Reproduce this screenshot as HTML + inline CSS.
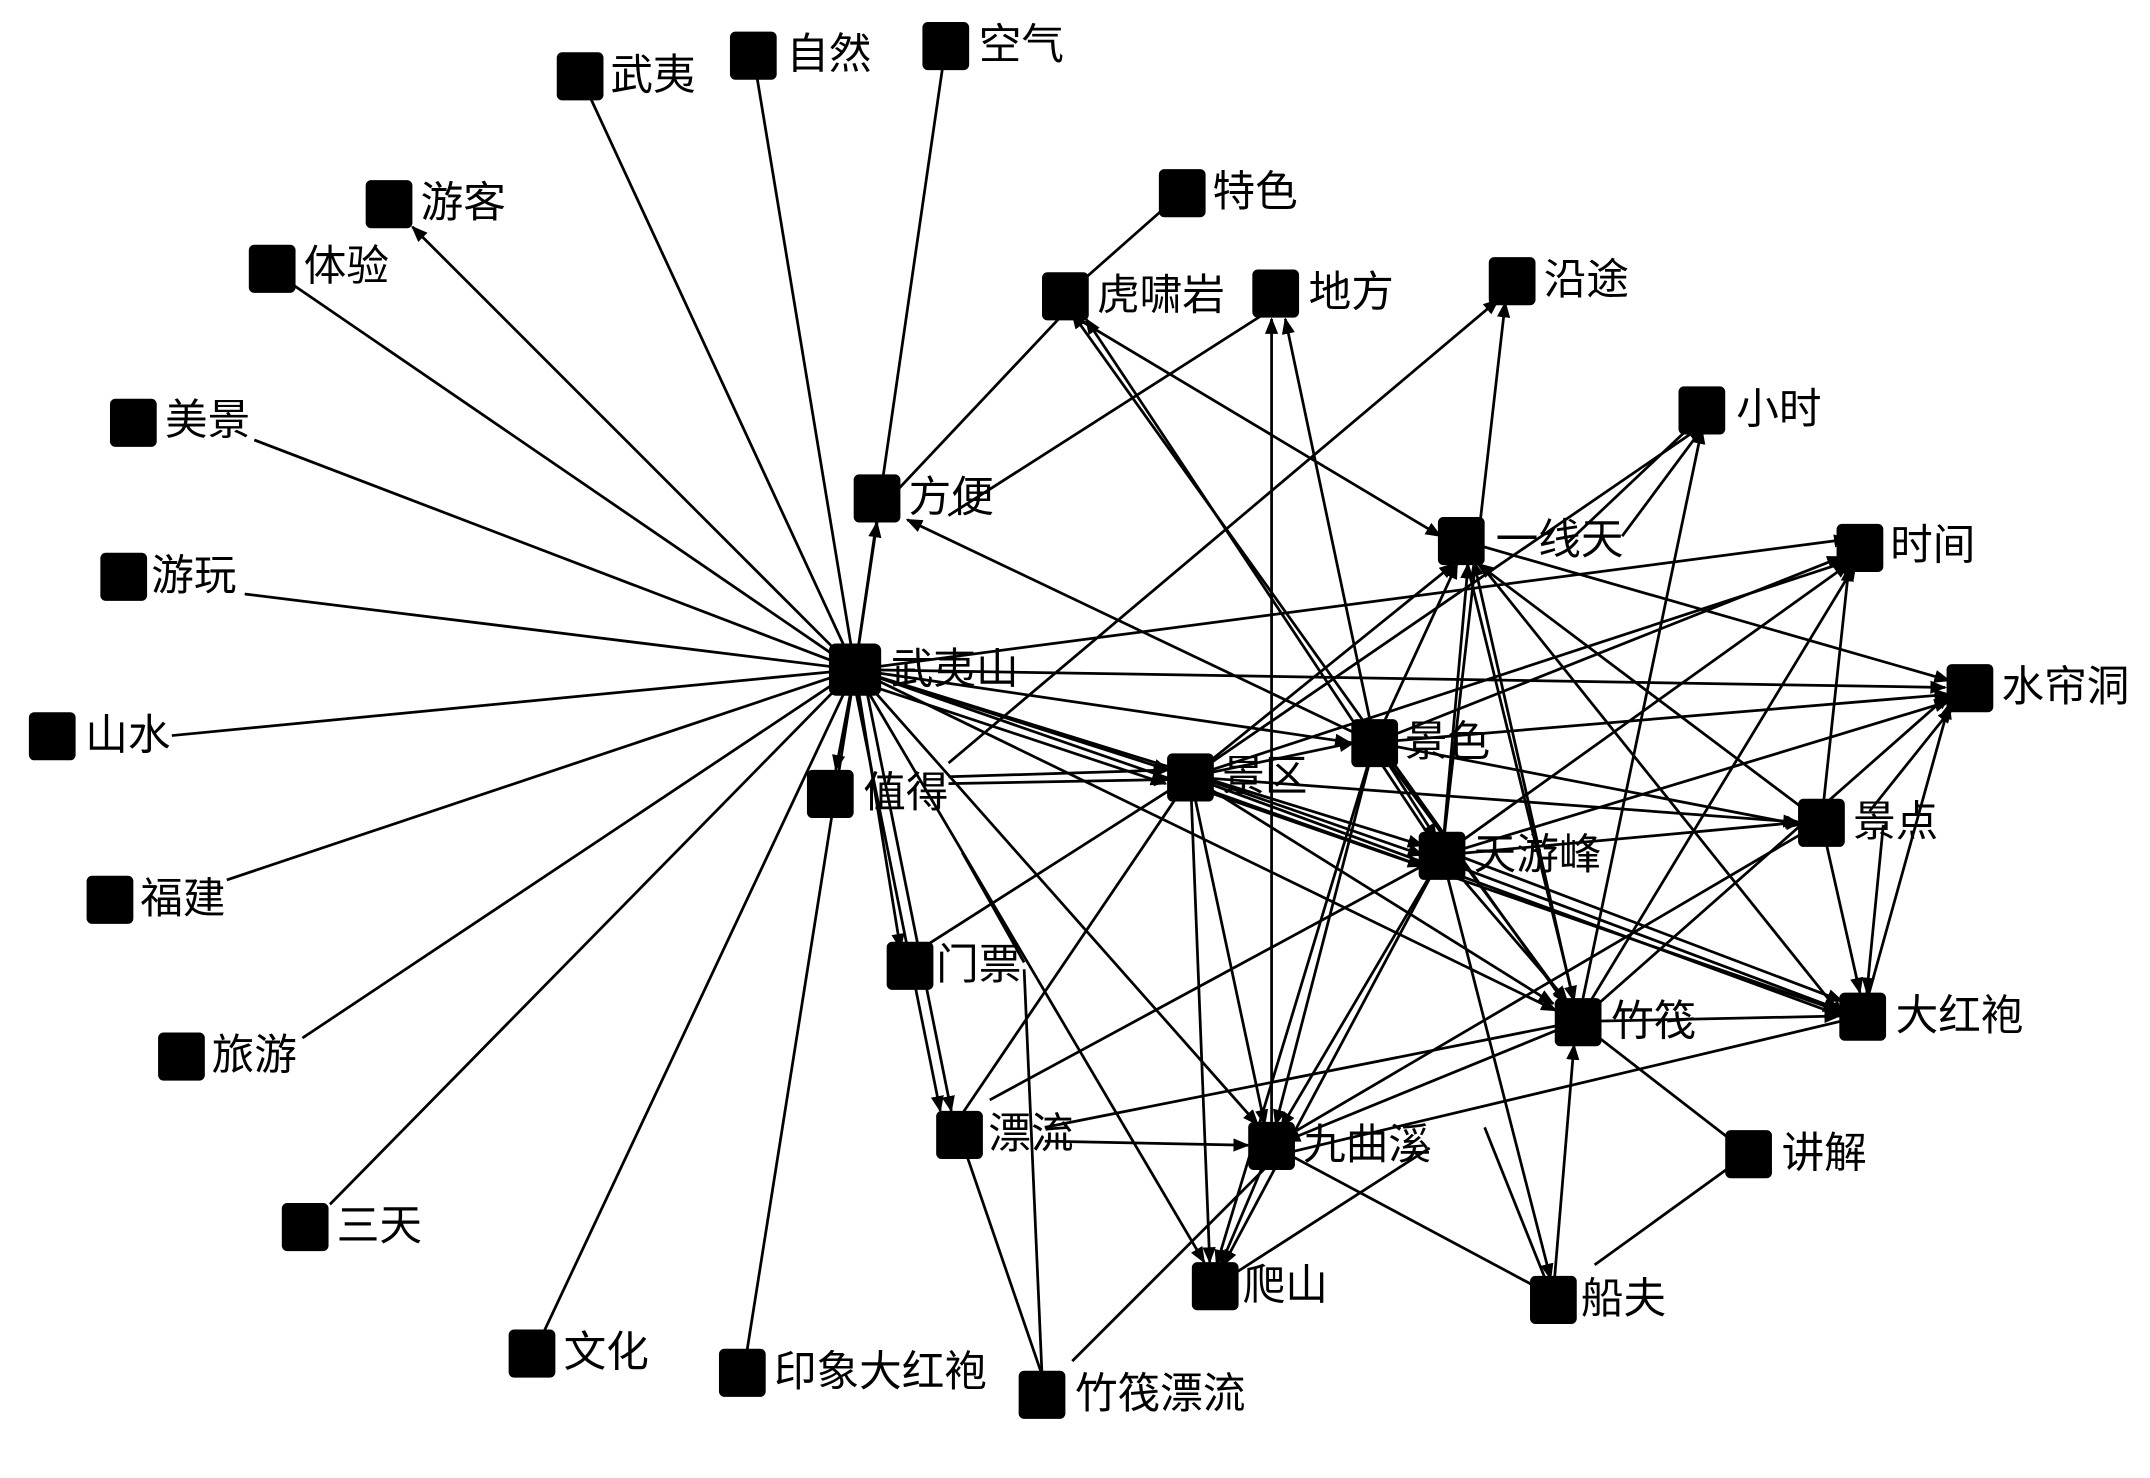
<!DOCTYPE html>
<html><head><meta charset="utf-8">
<style>
html,body{margin:0;padding:0;background:#fff;}
svg{display:block;}
text{font-family:"Liberation Sans","Noto Sans CJK SC","WenQuanYi Zen Hei",sans-serif;font-size:31px;fill:#000;}
</style></head>
<body>
<svg width="2150" height="1478" viewBox="0 0 1564 1075" preserveAspectRatio="none" xmlns="http://www.w3.org/2000/svg">
<defs>
<marker id="a" viewBox="0 0 10 10" refX="9" refY="5" markerWidth="6" markerHeight="6" orient="auto-start-reverse">
<path d="M0,1 L10,5 L0,9 z" fill="#000"/></marker>
</defs>
<g stroke="#000" stroke-width="2" fill="none">
<line x1="622" y1="487" x2="422" y2="55"/>
<line x1="622" y1="487" x2="548" y2="40"/>
<line x1="622" y1="487" x2="688" y2="33"/>
<line x1="622" y1="487" x2="210" y2="205"/>
<line x1="622" y1="487" x2="185" y2="320"/>
<line x1="622" y1="487" x2="178" y2="432"/>
<line x1="622" y1="487" x2="125" y2="535"/>
<line x1="622" y1="487" x2="165" y2="640"/>
<line x1="622" y1="487" x2="220" y2="755"/>
<line x1="622" y1="487" x2="240" y2="876"/>
<line x1="622" y1="487" x2="395" y2="970"/>
<line x1="622" y1="487" x2="543" y2="985"/>
<line x1="698" y1="825" x2="758" y2="1000"/>
<line x1="745" y1="705" x2="758" y2="1000"/>
<line x1="700" y1="620" x2="745" y2="700"/>
<line x1="775" y1="215" x2="860" y2="140"/>
<line x1="640" y1="370" x2="772" y2="230"/>
<line x1="690" y1="375" x2="920" y2="228"/>
<line x1="780" y1="990" x2="925" y2="845"/>
<line x1="1148" y1="743" x2="1272" y2="839"/>
<line x1="1160" y1="920" x2="1272" y2="839"/>
<line x1="925" y1="833" x2="1125" y2="940"/>
<line x1="1040" y1="835" x2="900" y2="925"/>
<line x1="1140" y1="395" x2="1230" y2="310"/>
<line x1="1180" y1="390" x2="1238" y2="312"/>
</g>
<g stroke="#000" stroke-width="2" fill="none" marker-end="url(#a)">
<line x1="622" y1="487" x2="300" y2="165"/>
<line x1="622" y1="487" x2="638" y2="380"/>
<line x1="622" y1="487" x2="608" y2="560"/>
<line x1="622" y1="487" x2="655" y2="690"/>
<line x1="630" y1="500" x2="692" y2="808"/>
<line x1="622" y1="500" x2="684" y2="808"/>
<line x1="622" y1="487" x2="850" y2="560"/>
<line x1="622" y1="495" x2="848" y2="570"/>
<line x1="622" y1="487" x2="982" y2="540"/>
<line x1="622" y1="487" x2="1035" y2="615"/>
<line x1="622" y1="487" x2="1415" y2="500"/>
<line x1="622" y1="487" x2="915" y2="818"/>
<line x1="622" y1="487" x2="1132" y2="735"/>
<line x1="622" y1="487" x2="876" y2="918"/>
<line x1="622" y1="487" x2="1345" y2="392"/>
<line x1="622" y1="487" x2="1337" y2="735"/>
<line x1="1000" y1="540" x2="660" y2="378"/>
<line x1="784" y1="232" x2="1048" y2="390"/>
<line x1="1049" y1="622" x2="790" y2="232"/>
<line x1="1148" y1="743" x2="780" y2="228"/>
<line x1="925" y1="833" x2="925" y2="232"/>
<line x1="1000" y1="540" x2="935" y2="232"/>
<line x1="690" y1="555" x2="1090" y2="218"/>
<line x1="1049" y1="622" x2="1095" y2="220"/>
<line x1="690" y1="565" x2="850" y2="560"/>
<line x1="690" y1="570" x2="850" y2="567"/>
<line x1="670" y1="690" x2="866" y2="565"/>
<line x1="760" y1="830" x2="908" y2="833"/>
<line x1="700" y1="810" x2="866" y2="565"/>
<line x1="720" y1="800" x2="1049" y2="622"/>
<line x1="760" y1="820" x2="1148" y2="743"/>
<line x1="866" y1="565" x2="985" y2="540"/>
<line x1="880" y1="568" x2="1035" y2="622"/>
<line x1="880" y1="575" x2="1035" y2="630"/>
<line x1="866" y1="565" x2="1308" y2="598"/>
<line x1="866" y1="565" x2="1340" y2="739"/>
<line x1="866" y1="565" x2="1058" y2="410"/>
<line x1="866" y1="565" x2="1345" y2="408"/>
<line x1="866" y1="565" x2="920" y2="818"/>
<line x1="866" y1="565" x2="880" y2="918"/>
<line x1="866" y1="565" x2="1238" y2="310"/>
<line x1="866" y1="565" x2="1130" y2="730"/>
<line x1="1000" y1="540" x2="1060" y2="410"/>
<line x1="1000" y1="540" x2="1340" y2="405"/>
<line x1="1000" y1="540" x2="1418" y2="505"/>
<line x1="1000" y1="540" x2="1310" y2="600"/>
<line x1="1000" y1="540" x2="1045" y2="610"/>
<line x1="1000" y1="540" x2="1140" y2="730"/>
<line x1="1000" y1="540" x2="928" y2="818"/>
<line x1="1000" y1="540" x2="885" y2="920"/>
<line x1="1049" y1="622" x2="1068" y2="410"/>
<line x1="1049" y1="622" x2="1345" y2="410"/>
<line x1="1049" y1="622" x2="1418" y2="510"/>
<line x1="1049" y1="622" x2="1310" y2="598"/>
<line x1="1049" y1="622" x2="1140" y2="728"/>
<line x1="1060" y1="630" x2="1340" y2="735"/>
<line x1="1060" y1="622" x2="1340" y2="728"/>
<line x1="1049" y1="622" x2="932" y2="820"/>
<line x1="1049" y1="622" x2="1128" y2="930"/>
<line x1="1049" y1="622" x2="890" y2="920"/>
<line x1="1063" y1="393" x2="1340" y2="739"/>
<line x1="1063" y1="393" x2="1145" y2="728"/>
<line x1="1063" y1="393" x2="1418" y2="495"/>
<line x1="1148" y1="743" x2="1072" y2="408"/>
<line x1="1325" y1="598" x2="1345" y2="412"/>
<line x1="1360" y1="590" x2="1420" y2="515"/>
<line x1="1325" y1="598" x2="1353" y2="722"/>
<line x1="1370" y1="600" x2="1358" y2="722"/>
<line x1="1325" y1="598" x2="925" y2="833"/>
<line x1="1325" y1="598" x2="1075" y2="410"/>
<line x1="1148" y1="743" x2="1338" y2="739"/>
<line x1="1148" y1="743" x2="1350" y2="410"/>
<line x1="1148" y1="743" x2="1238" y2="312"/>
<line x1="1148" y1="743" x2="1418" y2="505"/>
<line x1="1148" y1="743" x2="935" y2="830"/>
<line x1="1130" y1="940" x2="1145" y2="760"/>
<line x1="1355" y1="739" x2="930" y2="840"/>
<line x1="1355" y1="739" x2="1418" y2="512"/>
<line x1="925" y1="833" x2="888" y2="920"/>
<line x1="1080" y1="820" x2="1130" y2="945"/>
</g>
<g fill="#000">
<rect x="603" y="468" width="38" height="38" rx="5"/>
<rect x="405" y="38" width="34" height="35" rx="4"/>
<rect x="531" y="23" width="34" height="35" rx="4"/>
<rect x="671" y="16" width="34" height="35" rx="4"/>
<rect x="266" y="131" width="34" height="35" rx="4"/>
<rect x="181" y="178" width="34" height="35" rx="4"/>
<rect x="80" y="290" width="34" height="35" rx="4"/>
<rect x="73" y="402" width="34" height="35" rx="4"/>
<rect x="21" y="518" width="34" height="35" rx="4"/>
<rect x="63" y="637" width="34" height="35" rx="4"/>
<rect x="115" y="751" width="34" height="35" rx="4"/>
<rect x="205" y="875" width="34" height="35" rx="4"/>
<rect x="370" y="967" width="34" height="35" rx="4"/>
<rect x="523" y="981" width="34" height="35" rx="4"/>
<rect x="741" y="997" width="34" height="35" rx="4"/>
<rect x="843" y="123" width="34" height="35" rx="4"/>
<rect x="758" y="198" width="34" height="35" rx="4"/>
<rect x="911" y="196" width="34" height="35" rx="4"/>
<rect x="1083" y="187" width="34" height="35" rx="4"/>
<rect x="621" y="345" width="34" height="35" rx="4"/>
<rect x="587" y="560" width="34" height="35" rx="4"/>
<rect x="645" y="685" width="34" height="35" rx="4"/>
<rect x="681" y="808" width="34" height="35" rx="4"/>
<rect x="1221" y="281" width="34" height="35" rx="4"/>
<rect x="1046" y="376" width="34" height="35" rx="4"/>
<rect x="1336" y="381" width="34" height="35" rx="4"/>
<rect x="1416" y="483" width="34" height="35" rx="4"/>
<rect x="983" y="523" width="34" height="35" rx="4"/>
<rect x="849" y="548" width="34" height="35" rx="4"/>
<rect x="1032" y="605" width="34" height="35" rx="4"/>
<rect x="1308" y="581" width="34" height="35" rx="4"/>
<rect x="1131" y="726" width="34" height="35" rx="4"/>
<rect x="1338" y="722" width="34" height="35" rx="4"/>
<rect x="1255" y="822" width="34" height="35" rx="4"/>
<rect x="908" y="816" width="34" height="35" rx="4"/>
<rect x="867" y="918" width="34" height="35" rx="4"/>
<rect x="1113" y="928" width="34" height="35" rx="4"/>
</g>
<g>
<text x="648" y="497">武夷山</text>
<text x="444" y="65">武夷</text>
<text x="572" y="50">自然</text>
<text x="712" y="43">空气</text>
<text x="306" y="158">游客</text>
<text x="221" y="204">体验</text>
<text x="120" y="316">美景</text>
<text x="110" y="429">游玩</text>
<text x="62" y="545">山水</text>
<text x="102" y="664">福建</text>
<text x="154" y="778">旅游</text>
<text x="245" y="902">三天</text>
<text x="410" y="994">文化</text>
<text x="563" y="1008">印象大红袍</text>
<text x="782" y="1024">竹筏漂流</text>
<text x="882" y="150">特色</text>
<text x="798" y="225">虎啸岩</text>
<text x="952" y="223">地方</text>
<text x="1123" y="214">沿途</text>
<text x="661" y="372">方便</text>
<text x="628" y="587">值得</text>
<text x="681" y="712">门票</text>
<text x="719" y="835">漂流</text>
<text x="1263" y="308">小时</text>
<text x="1088" y="403">一线天</text>
<text x="1375" y="407">时间</text>
<text x="1456" y="510">水帘洞</text>
<text x="1022" y="550">景色</text>
<text x="889" y="575">景区</text>
<text x="1072" y="632">天游峰</text>
<text x="1348" y="608">景点</text>
<text x="1172" y="753">竹筏</text>
<text x="1379" y="749">大红袍</text>
<text x="1296" y="849">讲解</text>
<text x="948" y="843">九曲溪</text>
<text x="904" y="945">爬山</text>
<text x="1150" y="955">船夫</text>
</g>
</svg>
</body></html>
